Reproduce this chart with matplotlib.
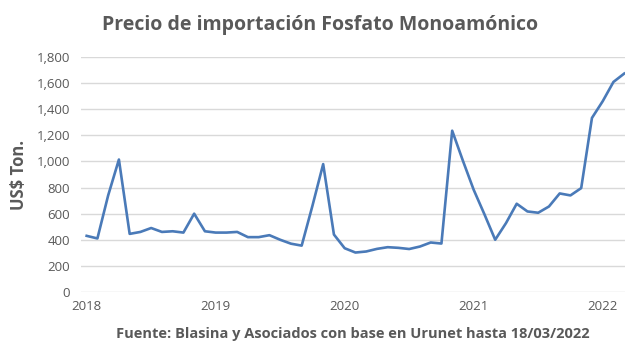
import matplotlib.pyplot as plt
from matplotlib.ticker import FuncFormatter

# Monthly import price, Jan 2018 .. Mar 2022 (US$ / ton)
months = list(range(51))
prices = [430, 410, 740, 1015, 445, 460, 490, 460, 465, 455, 600, 465,
          455, 455, 460, 420, 420, 435, 400, 370, 355, 660, 980, 440,
          335, 302, 310, 330, 343, 338, 329, 348, 379, 371, 1236, 1005,
          783, 595, 400, 527, 676, 617, 607, 655, 755, 740, 796, 1334,
          1462, 1610, 1674]
year_ticks = [0, 12, 24, 36, 48]
year_labels = ["2018", "2019", "2020", "2021", "2022"]

plt.rcParams['font.family'] = ['Open Sans', 'DejaVu Sans']
gray = "#595959"

fig = plt.figure(figsize=(6.4, 3.64), dpi=100)
ax = fig.add_axes([0.127, 0.198, 0.85, 0.645])

ax.plot(months, prices, color="#4a7ab8", linewidth=1.9)

ax.set_ylim(0, 1800)
ax.set_yticks(range(0, 1801, 200))
ax.yaxis.set_major_formatter(FuncFormatter(lambda v, p: f"{int(v):,}"))
ax.set_xlim(-0.5, 50.1)
ax.set_xticks(year_ticks)
ax.set_xticklabels(year_labels)

ax.grid(axis="y", color="#d9d9d9", linewidth=1)
ax.set_axisbelow(True)
for s in ax.spines.values():
    s.set_visible(False)
ax.tick_params(length=0, labelsize=9.5, labelcolor=gray, pad=8)
ax.tick_params(axis="x", pad=6)

ax.set_ylabel("US$ Ton.", fontsize=12, fontweight="bold", color=gray, labelpad=6)

fig.text(0.5, 0.932, "Precio de importación Fosfato Monoamónico",
         ha="center", va="center", fontsize=14, fontweight="bold", color=gray)
fig.text(0.551, 0.083, "Fuente: Blasina y Asociados con base en Urunet hasta 18/03/2022",
         ha="center", va="center", fontsize=10.5, fontweight="bold", color=gray)

fig.savefig("out.png", dpi=100)
